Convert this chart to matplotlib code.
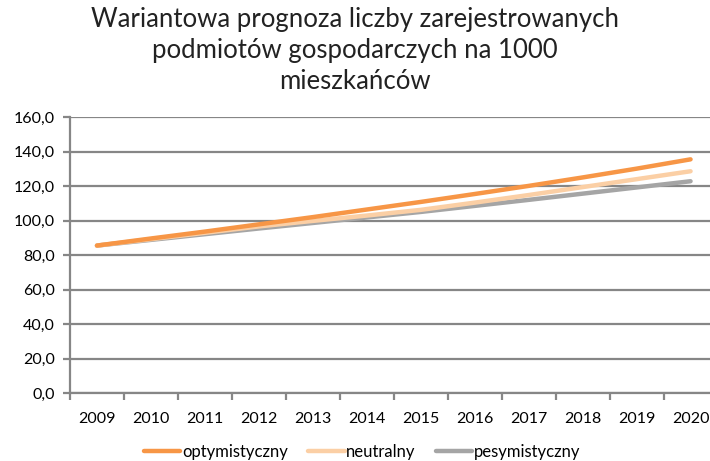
#!/usr/bin/env python3

import numpy as np
import matplotlib.pyplot as plt

years = ['2009', '2010', '2011', '2012', '2013', '2014',
         '2015', '2016', '2017', '2018', '2019', '2020']
optymistyczny = [85.5, 89.6, 93.6, 97.8, 102.0, 106.4, 110.8, 115.4, 120.1, 125.0, 130.1, 135.5]
neutralny = [85.5, 89.2, 92.9, 96.6, 99.8, 102.9, 106.2, 110.4, 114.8, 119.4, 124.0, 128.6]
pesymistyczny = [85.5, 88.8, 92.1, 95.4, 98.6, 101.8, 105.0, 108.5, 112.0, 115.6, 119.2, 122.8]

title = 'Wariantowa prognoza liczby zarejestrowanych\npodmiotów gospodarczych na 1000\nmieszkańców'

plt.rcParams['font.family'] = ['Lato', 'DejaVu Sans']

def main():
    fig = plt.figure(figsize=(7.1, 4.61), dpi=100)
    ax = fig.add_axes([0.0986, 0.1475, 0.912, 0.5985])

    x = np.arange(len(years))
    ax.plot(x, optymistyczny, color='#F79646', lw=3.2, solid_capstyle='round', label='optymistyczny', zorder=3)
    ax.plot(x, neutralny, color='#FBCFA5', lw=3.2, solid_capstyle='round', label='neutralny', zorder=2)
    ax.plot(x, pesymistyczny, color='#A5A5A5', lw=3.2, solid_capstyle='round', label='pesymistyczny', zorder=1)

    grey = '#868686'
    ax.set_ylim(0, 160)
    ax.set_yticks(np.arange(0, 161, 20))
    ax.set_yticklabels([f'{v:.1f}'.replace('.', ',') for v in range(0, 161, 20)])
    ax.yaxis.grid(True, color=grey, lw=1.6)
    ax.set_axisbelow(True)

    ax.set_xlim(-0.5, len(years) - 0.5)
    ax.set_xticks(x)
    ax.set_xticklabels(years)
    ax.set_xticks(np.arange(-0.5, len(years), 1), minor=True)
    ax.tick_params(axis='x', which='major', length=0, pad=14, labelsize=11.5, colors='black')
    ax.tick_params(axis='x', which='minor', length=5, width=1.6, color=grey)
    ax.tick_params(axis='y', length=5, width=1.6, color=grey, labelsize=11.5, pad=6)

    for s in ['top', 'right']:
        ax.spines[s].set_visible(False)
    for s in ['left', 'bottom']:
        ax.spines[s].set_color(grey)
        ax.spines[s].set_linewidth(1.6)

    fig.text(0.5, 0.985, title, ha='center', va='top', fontsize=18.5,
             color='#222222', linespacing=1.3)

    fig.legend(loc='lower center', bbox_to_anchor=(0.51, -0.03), ncol=3, frameon=False,
               fontsize=12, handlelength=2.2, handletextpad=0.1, columnspacing=1.2)

    fig.savefig('out.png', dpi=100)

if __name__ == "__main__":
    main()
